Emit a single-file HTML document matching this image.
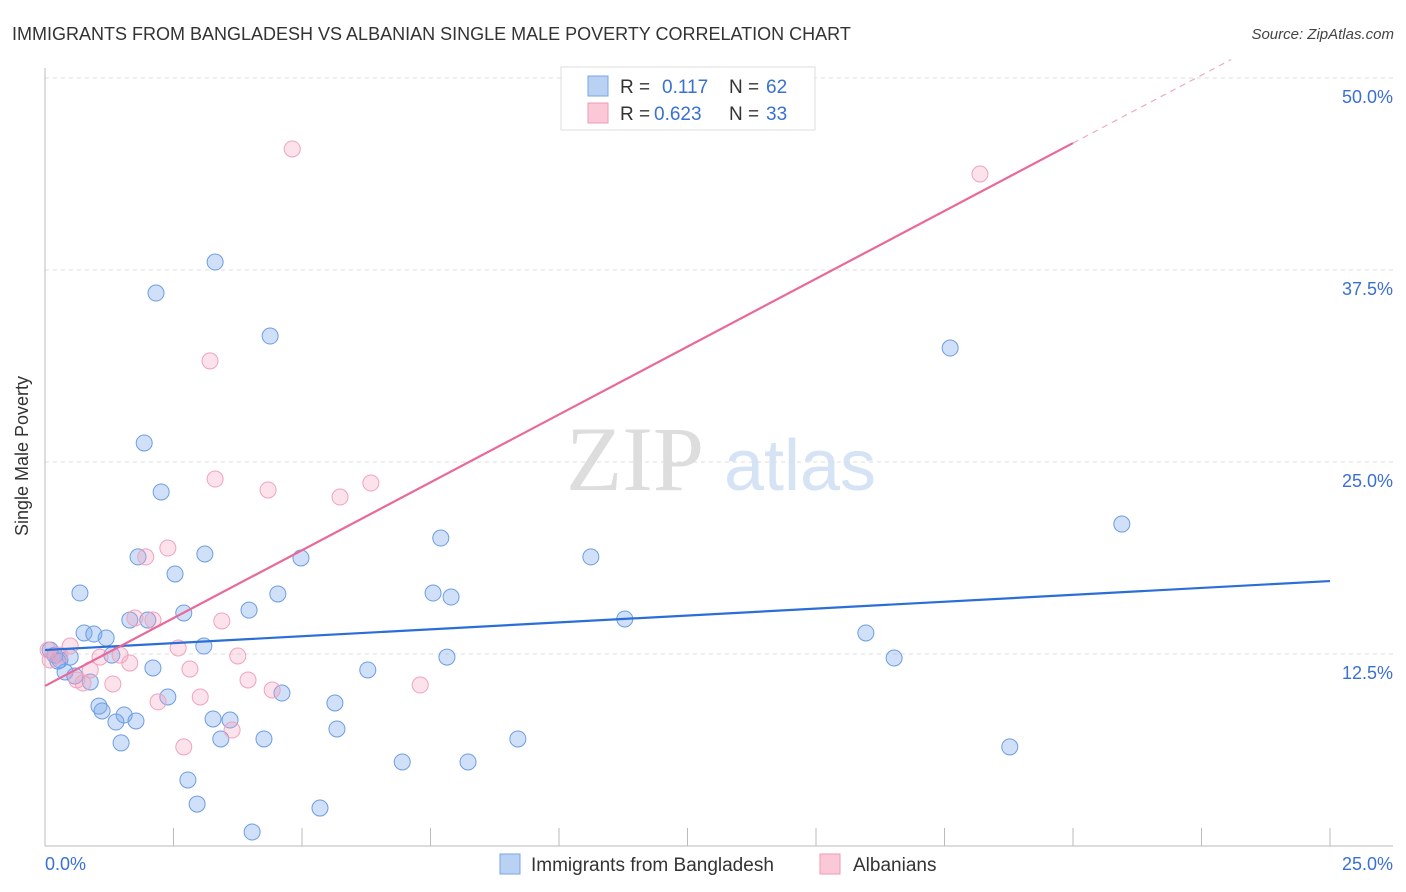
<!DOCTYPE html>
<html><head><meta charset="utf-8">
<style>
body{margin:0;background:#fff;font-family:"Liberation Sans",sans-serif;}
svg{display:block}
</style></head>
<body>
<svg id="chart" width="1406" height="892" xmlns="http://www.w3.org/2000/svg">
<text x="12" y="40" font-size="18" fill="#333">IMMIGRANTS FROM BANGLADESH VS ALBANIAN SINGLE MALE POVERTY CORRELATION CHART</text>
<text x="1394" y="39" font-size="15" fill="#444" font-style="italic" text-anchor="end">Source: ZipAtlas.com</text>
<text x="28" y="456" font-size="18" fill="#333" text-anchor="middle" transform="rotate(-90 28 456)">Single Male Poverty</text>
<g>
<text x="635" y="490" font-size="92" fill="#ddd" font-family="Liberation Serif,serif" text-anchor="middle">ZIP</text>
<text x="800" y="490" font-size="72" fill="#d5e3f5" text-anchor="middle">atlas</text>
</g>
<g id="grid"></g>
<g id="axes"></g>
<g id="points"></g>
<g id="lines"></g>
<g>
<rect x="561" y="67" width="254" height="63" fill="#fff" stroke="#ddd"/>
<rect x="588" y="76" width="20" height="20" fill="#b9d2f4" stroke="#7aa6e3"/>
<text x="620" y="93" font-size="19" fill="#333">R = </text><text x="662" y="93" font-size="19" fill="#3a70d0">0.117</text>
<text x="729" y="93" font-size="19" fill="#333">N = </text><text x="766" y="93" font-size="19" fill="#3a70d0">62</text>
<rect x="588" y="103" width="20" height="20" fill="#fbc8d7" stroke="#ee9db7"/>
<text x="620" y="120" font-size="19" fill="#333">R = </text><text x="654" y="120" font-size="19" fill="#3a70d0">0.623</text>
<text x="729" y="120" font-size="19" fill="#333">N = </text><text x="766" y="120" font-size="19" fill="#3a70d0">33</text>
</g>
<g>
<rect x="500" y="854" width="20" height="20" fill="#b9d2f4" stroke="#7aa6e3"/>
<text x="531" y="871" font-size="19" fill="#333">Immigrants from Bangladesh</text>
<rect x="820" y="854" width="20" height="20" fill="#fbc8d7" stroke="#ee9db7"/>
<text x="853" y="871" font-size="19" fill="#333">Albanians</text>
</g>
</svg>
<script>
const yTicks=[12.5,25,37.5,50];
const yTickLabels=["12.5%","25.0%","37.5%","50.0%"];
const xTickLabels=["0.0%","25.0%"];
const blueX=[3.31,2.16,4.38,17.61,1.93,2.26,20.95,7.70,10.62,3.11,1.81,4.98,2.53,0.68,4.53,7.55,7.90,2.70,3.97,1.65,2.00,11.28,0.76,0.95,1.19,3.09,15.97,0.10,0.19,0.29,0.49,1.30,7.82,16.52,2.10,6.28,0.39,0.58,0.88,2.39,4.61,1.05,1.11,5.64,1.54,1.38,1.77,3.27,3.60,5.68,1.48,3.42,4.26,9.20,18.77,6.95,8.23,2.78,2.96,5.35,4.03,0.25];
const blueY=[38.02,36.00,33.20,32.42,26.24,23.05,20.96,20.05,18.82,19.01,18.82,18.75,17.71,16.47,16.41,16.47,16.21,15.17,15.36,14.71,14.71,14.78,13.87,13.80,13.54,13.02,13.87,12.76,12.43,12.11,12.30,12.43,12.30,12.24,11.59,11.46,11.33,11.07,10.68,9.70,9.96,9.11,8.79,9.31,8.53,8.07,8.14,8.27,8.20,7.62,6.71,6.97,6.97,6.97,6.45,5.47,5.47,4.30,2.73,2.47,0.91,12.04];
const pinkX=[4.81,18.19,3.21,3.31,4.34,6.34,5.74,2.39,1.96,2.10,1.75,3.44,2.59,3.75,1.46,1.07,0.49,0.29,0.06,0.88,2.82,1.65,0.62,3.95,0.74,1.32,7.30,4.42,3.02,2.20,3.64,2.70,0.10];
const pinkY=[45.38,43.75,31.58,23.89,23.18,23.63,22.72,19.40,18.82,14.71,14.84,14.65,12.89,12.37,12.43,12.30,13.02,12.43,12.76,11.46,11.52,11.91,10.81,10.81,10.61,10.55,10.48,10.16,9.70,9.38,7.55,6.45,12.11];
const blueTrend=[12.76,17.25];
const pinkTrend=[10.42,54.6];

const NS="http://www.w3.org/2000/svg";
const X0=45,X1=1330,Y0=846,YPX=15.36;
const sx=v=>X0+(X1-X0)*v/25;
const sy=v=>Y0-v*YPX;
function mk(tag,parent,attrs){const e=document.createElementNS(NS,tag);for(const k in attrs)e.setAttribute(k,attrs[k]);document.getElementById(parent).appendChild(e);return e;}

yTicks.forEach((t,i)=>{
  const g=mk('line','grid',{x1:X0,x2:1393,y1:sy(t),y2:sy(t),stroke:'#ddd','stroke-dasharray':'4,4'});
  
  
  const l=mk('text','axes',{x:1393,y:sy(t)+25,'font-size':18,fill:'#3a70d0','text-anchor':'end'});
  l.textContent=yTickLabels[i];
  
  
});
const ax=mk('line','axes',{x1:X0,x2:X0,y1:68,y2:Y0,stroke:'#bbb'});


const bx=mk('line','axes',{x1:X0,x2:1393,y1:Y0,y2:Y0,stroke:'#bbb'});


for(let i=0;i<=10;i++){
  const t=mk('line','axes',{x1:sx(i*2.5),x2:sx(i*2.5),y1:828,y2:Y0,stroke:'#bbb'});
  
  
}
const xl0=mk('text','axes',{x:45,y:870,'font-size':18,fill:'#3a70d0'});
xl0.textContent=xTickLabels[0];


const xl1=mk('text','axes',{x:1393,y:870,'font-size':18,fill:'#3a70d0','text-anchor':'end'});
xl1.textContent=xTickLabels[1];



blueX.forEach((x,i)=>{
  const c=mk('circle','points',{cx:sx(x),cy:sy(blueY[i]),r:8,fill:'rgba(120,165,235,0.35)',stroke:'#6d9de2','stroke-width':1});
  
  
});
pinkX.forEach((x,i)=>{
  const c=mk('circle','points',{cx:sx(x),cy:sy(pinkY[i]),r:8,fill:'rgba(245,160,190,0.3)',stroke:'#f0a3bd','stroke-width':1});
  
  
});
const bl=mk('line','lines',{x1:sx(0),y1:sy(blueTrend[0]),x2:sx(25),y2:sy(blueTrend[1]),stroke:'#2b6fd6','stroke-width':2.2});


const pAt=v=>pinkTrend[0]+(pinkTrend[1]-pinkTrend[0])*v/25;
const pl=mk('line','lines',{x1:sx(0),y1:sy(pAt(0)),x2:sx(20),y2:sy(pAt(20)),stroke:'#e8699a','stroke-width':2.2});


const xe=(51.2-pinkTrend[0])/(pinkTrend[1]-pinkTrend[0])*25;
const pd=mk('line','lines',{x1:sx(20),y1:sy(pAt(20)),x2:sx(xe),y2:sy(pAt(xe)),stroke:'#eeaac3','stroke-width':1.2,'stroke-dasharray':'6,5'});


</script>
</body></html>
